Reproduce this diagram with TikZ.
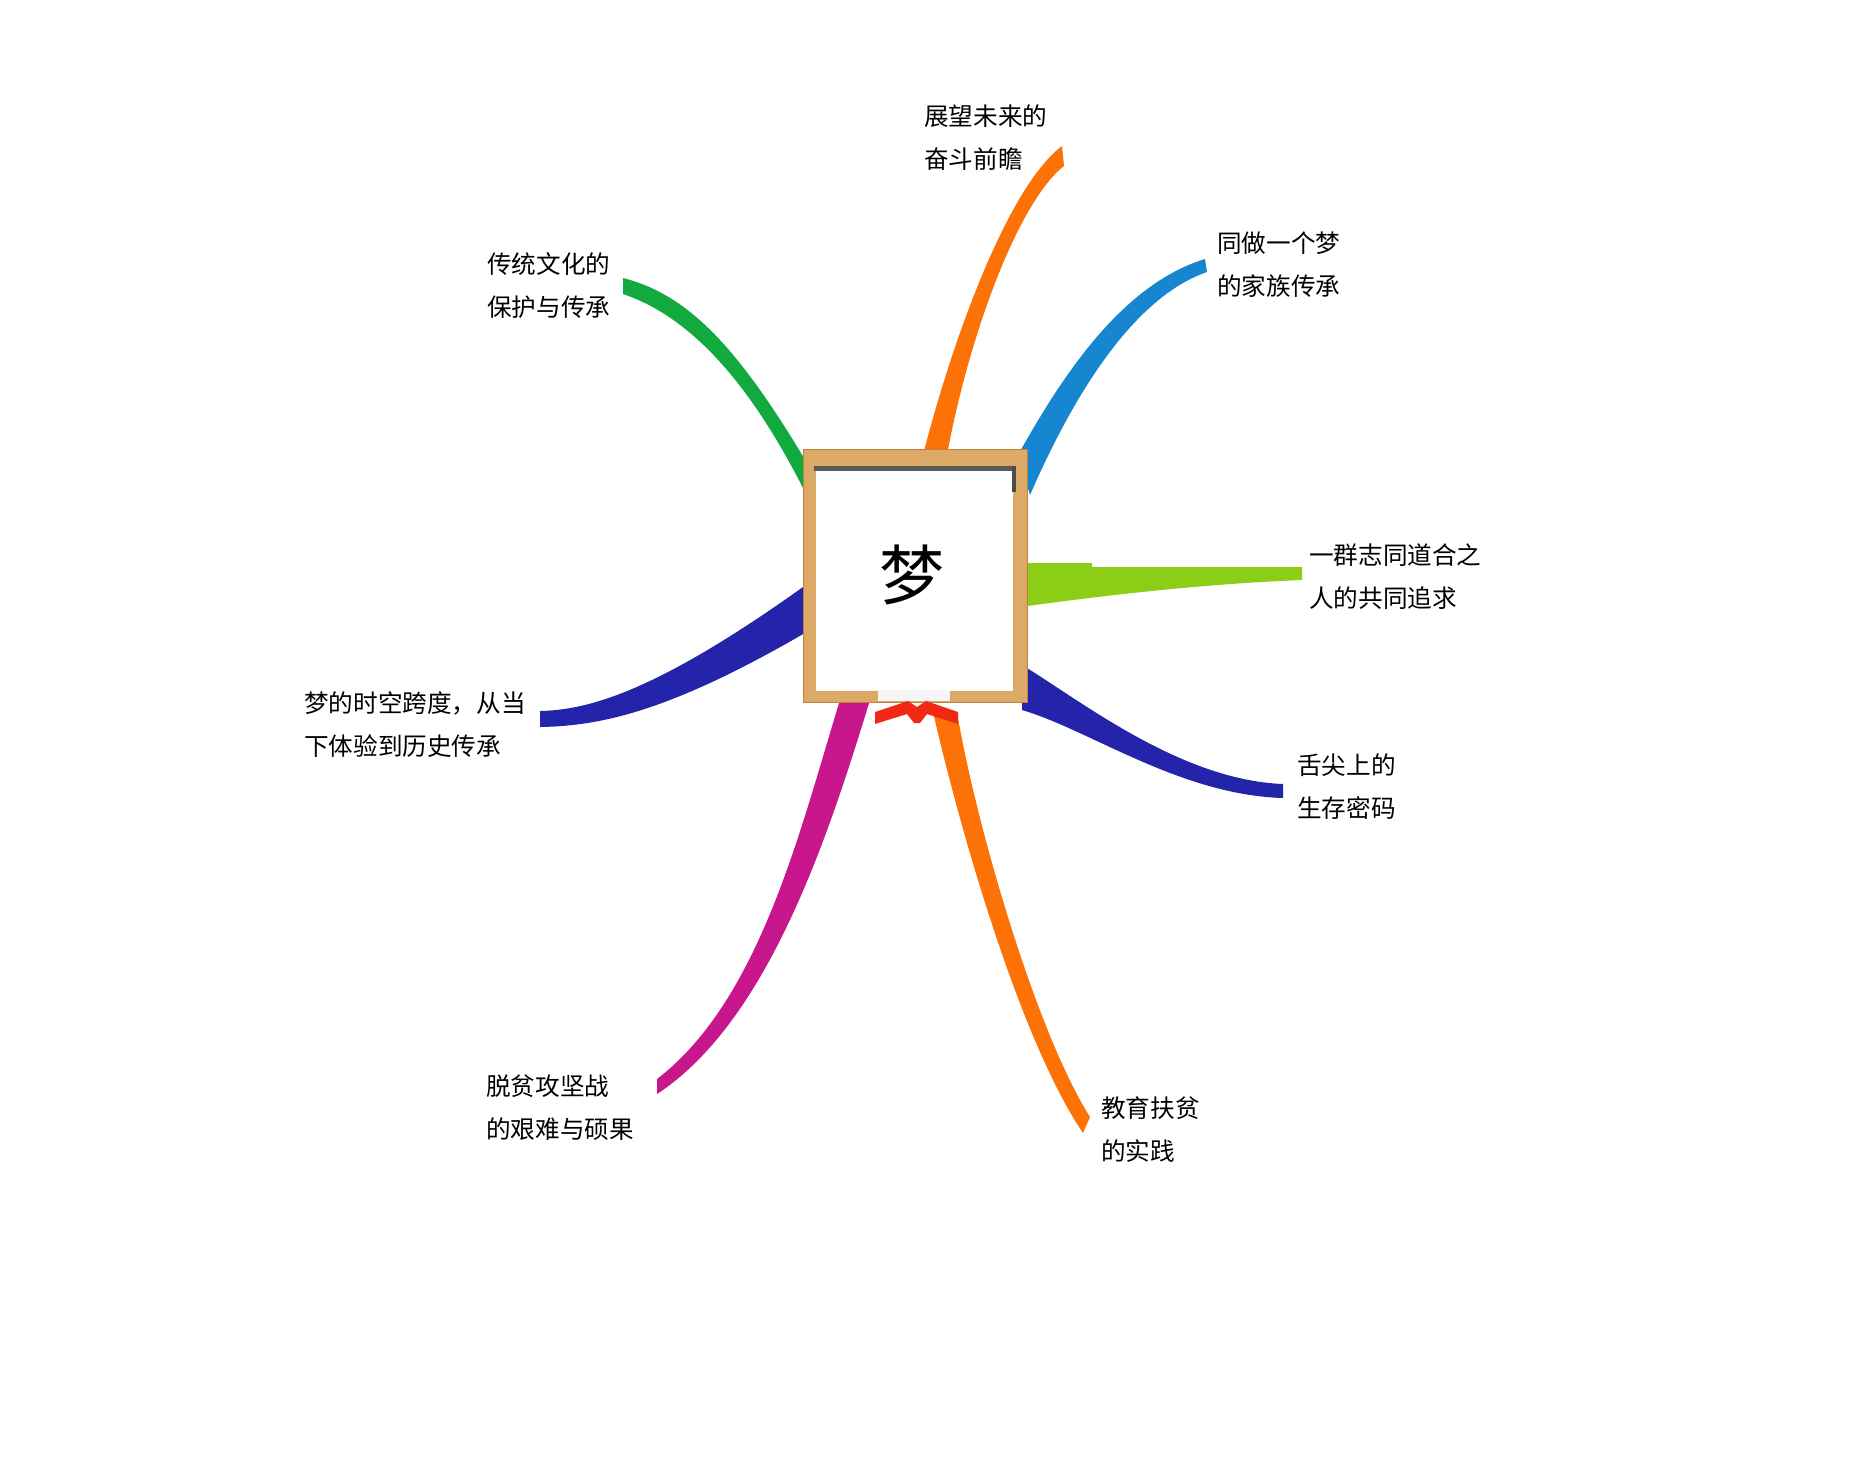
\documentclass[tikz,border=0pt]{standalone}
\usepackage{fontspec}
\usepackage{xcolor}
\newfontfamily\cjk{Noto Sans CJK SC}
\definecolor{brOrange}{RGB}{252,114,6}
\definecolor{brBlue}{RGB}{22,134,208}
\definecolor{brGreen}{RGB}{18,170,62}
\definecolor{brLime}{RGB}{140,206,22}
\definecolor{brNavy}{RGB}{36,36,170}
\definecolor{brMagenta}{RGB}{200,22,140}
\definecolor{brRed}{RGB}{240,40,20}
\definecolor{frameTan}{RGB}{220,170,102}
\definecolor{frameDark}{RGB}{188,130,62}
\begin{document}
\begin{tikzpicture}[x=0.2mm,y=-0.2mm]
  \tikzset{ lbl/.style={anchor=west,align=left,inner sep=0pt,font=\cjk\fontsize{14pt}{24.5pt}\selectfont},
    hub/.style={inner sep=0pt,font=\cjk\fontsize{37pt}{40pt}\selectfont},
  }
  \useasboundingbox[fill=white] (0,0) rectangle (1876,1475);

  % branches
  \fill[brOrange] (923,455) .. controls (955,330) and (1010,185) .. (1062,146) -- (1064,166) .. controls (1020,200) and (970,330) .. (947,455) -- cycle;
  \fill[brBlue] (1018,455) .. controls (1060,380) and (1120,285) .. (1205,259) -- (1207,272) .. controls (1140,295) and (1080,380) .. (1030,495) -- cycle;
  \fill[brGreen] (623,278) .. controls (690,295) and (740,350) .. (810,468) -- (810,502) .. controls (760,400) and (700,320) .. (623,294) -- cycle;
  \fill[brLime] (1020,563) -- (1092,563) -- (1092,567) -- (1302,567) -- (1302,580) .. controls (1200,584) and (1100,596) .. (1020,607) -- cycle;
  \fill[brNavy] (540,711) .. controls (590,710) and (660,690) .. (810,582) -- (810,630) .. controls (670,712) and (600,726) .. (540,727) -- cycle;
  \fill[brNavy] (1022,665) .. controls (1080,700) and (1180,780) .. (1283,784) -- (1283,798) .. controls (1180,795) and (1090,730) .. (1022,710) -- cycle;
  \fill[brMagenta] (840,700) .. controls (800,830) and (760,1000) .. (657,1079) -- (657,1094) .. controls (770,1020) and (830,830) .. (870,700) -- cycle;
  \fill[brOrange] (933,712) .. controls (960,830) and (1020,1040) .. (1083,1133) -- (1090,1117) .. controls (1035,1030) and (975,820) .. (957,712) -- cycle;

  % frame
  \fill[frameTan,draw=frameDark] (803,449) rectangle (1027,702);
  \fill[white] (816,471) rectangle (1013,691);
  \fill[gray!70!black] (814,466) rectangle (1016,471);
  \fill[gray!60!black] (1012,466) rectangle (1016,492);
  \fill[gray!8] (878,690) rectangle (950,701);
  \fill[brRed] (875,712) -- (908,701) -- (917,707) -- (926,701) -- (958,712) -- (958,724) -- (927,714) -- (920,723) -- (914,723) -- (907,714) -- (875,724) -- cycle;

  \node[hub] (dream) at (912,575) {梦};

  \node[lbl] (future) at (924,137.5) {展望未来的\\奋斗前瞻};
  \node[lbl] (family) at (1217,265) {同做一个梦\\的家族传承};
  \node[lbl] (culture) at (487,286) {传统文化的\\保护与传承};
  \node[lbl] (common) at (1309,576.5) {一群志同道合之\\人的共同追求};
  \node[lbl] (span) at (304,724.5) {梦的时空跨度，从当\\下体验到历史传承};
  \node[lbl] (taste) at (1297,786.5) {舌尖上的\\生存密码};
  \node[lbl] (poverty) at (486,1107.5) {脱贫攻坚战\\的艰难与硕果};
  \node[lbl] (edu) at (1101,1129.5) {教育扶贫\\的实践};
\end{tikzpicture}
\end{document}
